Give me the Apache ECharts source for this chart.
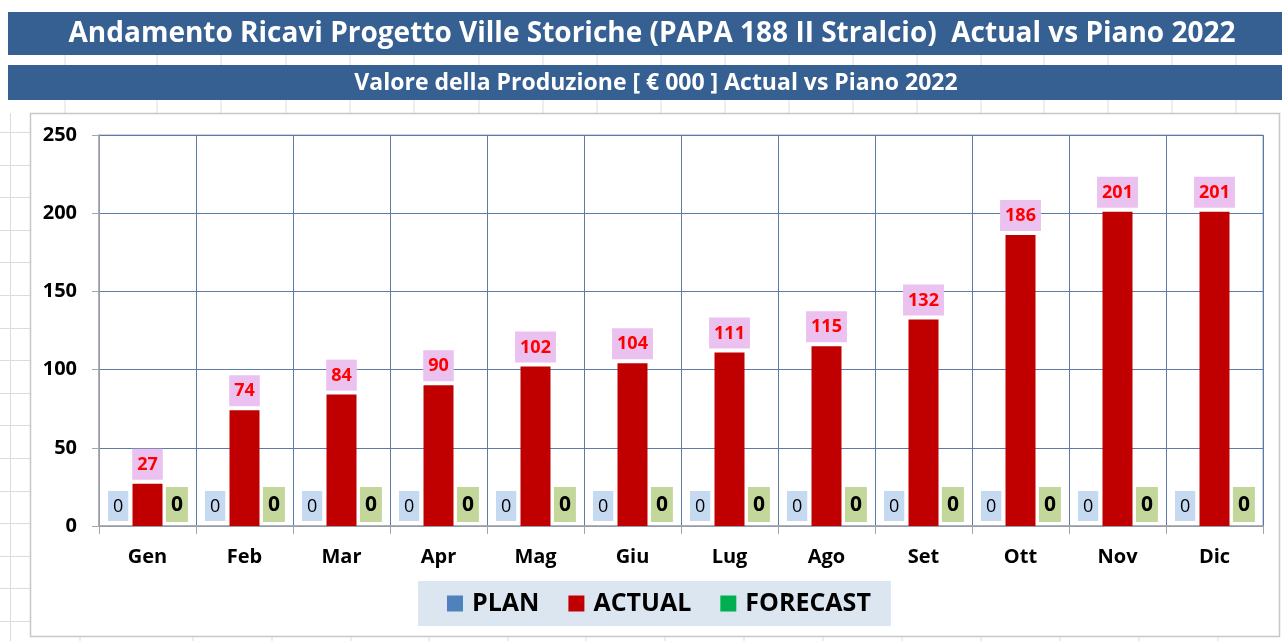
<!DOCTYPE html>
<html>
<head>
<meta charset="utf-8">
<script src="https://cdn.jsdelivr.net/npm/echarts@6/dist/echarts.min.js"></script>
<style>
html,body{margin:0;padding:0;background:#fff;}
#main{width:1282px;height:641px;}
</style>
</head>
<body>
<div id="main"></div>
<script>
var titleText = 'Andamento Ricavi Progetto Ville Storiche (PAPA 188 II Stralcio)  Actual vs Piano 2022';
var subtitleText = 'Valore della Produzione [ € 000 ] Actual vs Piano 2022';
var months = ['Gen','Feb','Mar','Apr','Mag','Giu','Lug','Ago','Set','Ott','Nov','Dic'];
var planValues = [0,0,0,0,0,0,0,0,0,0,0,0];
var actualValues = [27,74,84,90,102,104,111,115,132,186,201,201];
var forecastValues = [0,0,0,0,0,0,0,0,0,0,0,0];
var seriesNames = ['PLAN','ACTUAL','FORECAST'];

var FONT = '"Open Sans", "Noto Sans", sans-serif';

// faint spreadsheet cell lines in background
var bg = [];
var topCols = [65,157,221,286,350,414,479,543,597,661,725,789,853,917,981,1044,1108,1172,1236];
topCols.forEach(function(x){
  bg.push({type:'line', shape:{x1:x,y1:55,x2:x,y2:65}, style:{stroke:'#dcdcdc',lineWidth:1}, z:-10});
  bg.push({type:'line', shape:{x1:x,y1:100,x2:x,y2:113}, style:{stroke:'#dcdcdc',lineWidth:1}, z:-10});
});
var botCols = [80,193,272,351,429,508,586,665,744,823,902,981,1060,1139,1218];
botCols.forEach(function(x){
  bg.push({type:'line', shape:{x1:x,y1:636,x2:x,y2:641}, style:{stroke:'#dcdcdc',lineWidth:1}, z:-10});
});
for (var y = 132; y < 641; y += 32.6) {
  bg.push({type:'line', shape:{x1:0,y1:Math.round(y)+0.5,x2:30,y2:Math.round(y)+0.5}, style:{stroke:'#dcdcdc',lineWidth:1}, z:-10});
}
bg.push({type:'line', shape:{x1:10.5,y1:113,x2:10.5,y2:641}, style:{stroke:'#dcdcdc',lineWidth:1}, z:-10});

var graphics = bg.concat([
  {type:'rect', shape:{x:8,y:12,width:1274,height:43}, style:{fill:'#366092'}, z:-5},
  {type:'text', x:652, y:34, style:{text:titleText, fill:'#ffffff', font:'bold 28px ' + FONT, align:'center', verticalAlign:'middle'}, z:-4},
  {type:'rect', shape:{x:8,y:65,width:1274,height:35}, style:{fill:'#366092'}, z:-5},
  {type:'text', x:656, y:83, style:{text:subtitleText, fill:'#ffffff', font:'bold 23px ' + FONT, align:'center', verticalAlign:'middle'}, z:-4},
  {type:'rect', shape:{x:30.5,y:113.5,width:1249,height:523}, style:{fill:'#ffffff', stroke:'#c8c8c8', lineWidth:1.5}, z:-3}
]);

var chart = echarts.init(document.getElementById('main'), null, {renderer:'canvas'});
chart.setOption({
  animation:false,
  textStyle:{fontFamily:FONT},
  graphic: graphics,
  grid:{left:99, right:19, top:135, bottom:115, containLabel:false,
        show:true, borderColor:'#8ea4c4', borderWidth:1},
  legend:{
    data: seriesNames,
    left:418, top:581,
    backgroundColor:'#dce6f1',
    padding:[10,20,10,29],
    itemWidth:16, itemHeight:16, itemGap:29,
    icon:'rect',
    textStyle:{fontSize:25, fontWeight:'bold', color:'#000', fontFamily:FONT, padding:[0,0,0,4]}
  },
  xAxis:{
    type:'category',
    data: months,
    boundaryGap:true,
    axisLine:{show:true, lineStyle:{color:'#a6a6a6', width:1.5}},
    axisTick:{show:true, interval:0, length:8, lineStyle:{color:'#a6a6a6'}},
    splitLine:{show:true, interval:0, lineStyle:{color:'#5e7ba6', width:1}},
    axisLabel:{interval:0, margin:21, fontSize:20, fontWeight:'bold', color:'#000'}
  },
  yAxis:{
    type:'value',
    min:0, max:250, interval:50,
    axisLine:{show:true, lineStyle:{color:'#a6a6a6', width:1.5}},
    axisTick:{show:true, length:7, lineStyle:{color:'#a6a6a6'}},
    splitLine:{show:true, lineStyle:{color:'#5e7ba6', width:1}},
    axisLabel:{margin:22, fontSize:20, fontWeight:'bold', color:'#000'}
  },
  series:[
    {
      name:seriesNames[0], type:'bar', data:planValues, barWidth:30, barGap:'-2%',
      itemStyle:{color:'#4f81bd'},
      label:{show:true, position:'top', distance:5, color:'#000', fontSize:18,
             backgroundColor:'#c5d9f1', padding:[7,5,5,5]}
    },
    {
      name:seriesNames[1], type:'bar', data:actualValues, barWidth:30, barGap:'-2%',
      itemStyle:{color:'#c00000'},
      label:{show:true, position:'top', distance:4, color:'#ff0000', fontSize:18, fontWeight:'bold',
             backgroundColor:'#ebc1ef', padding:[7,5,6,5]}
    },
    {
      name:seriesNames[2], type:'bar', data:forecastValues, barWidth:30, barGap:'-2%',
      itemStyle:{color:'#00b050'},
      label:{show:true, position:'top', distance:4, color:'#000', fontSize:21, fontWeight:'bold',
             backgroundColor:'#c4d79b', padding:[8,5,6,5]}
    }
  ]
});
</script>
</body>
</html>
